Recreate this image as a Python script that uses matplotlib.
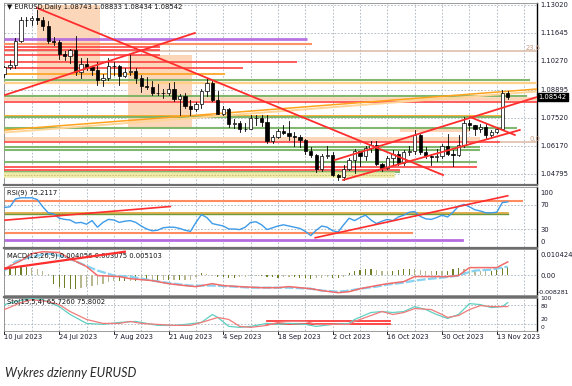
import matplotlib
matplotlib.use('Agg')
import matplotlib.pyplot as plt
from matplotlib.patches import Rectangle
from matplotlib.lines import Line2D

W, H = 572, 386

# EURUSD daily bars, 10 Jul 2023 - 15 Nov 2023 (bar index = trading day)
opens = [1.0968, 1.0998, 1.1010, 1.1129, 1.1227, 1.1229, 1.1237, 1.1228, 1.1200, 1.1129,
         1.1124, 1.1063, 1.1055, 1.1085, 1.0975, 1.1017, 1.0998, 1.0985, 1.0935, 1.0945,
         1.1007, 1.1003, 1.0956, 1.0974, 1.0980, 1.0947, 1.0906, 1.0905, 1.0873, 1.0874,
         1.0872, 1.0895, 1.0844, 1.0861, 1.0812, 1.0795, 1.0818, 1.0882, 1.0924, 1.0842,
         1.0773, 1.0795, 1.0723, 1.0726, 1.0699, 1.0700, 1.0750, 1.0753, 1.0732, 1.0642,
         1.0659, 1.0690, 1.0679, 1.0662, 1.0658, 1.0645, 1.0592, 1.0570, 1.0502, 1.0566,
         1.0573, 1.0477, 1.0465, 1.0504, 1.0549, 1.0589, 1.0565, 1.0605, 1.0620, 1.0529,
         1.0510, 1.0559, 1.0577, 1.0535, 1.0585, 1.0593, 1.0668, 1.0587, 1.0565, 1.0563,
         1.0565, 1.0617, 1.0576, 1.0570, 1.0619, 1.0730, 1.0720, 1.0699, 1.0710, 1.0667,
         1.0683, 1.0698, 1.08743]
highs = [1.1004, 1.1033, 1.1140, 1.1245, 1.1245, 1.1248, 1.1276, 1.1242, 1.1222, 1.1146,
         1.1130, 1.1080, 1.1090, 1.1149, 1.1045, 1.1045, 1.1000, 1.1026, 1.0967, 1.1042,
         1.1025, 1.1010, 1.0996, 1.1065, 1.0993, 1.0963, 1.0953, 1.0930, 1.0918, 1.0893,
         1.0924, 1.0926, 1.0867, 1.0875, 1.0839, 1.0829, 1.0891, 1.0945, 1.0930, 1.0882,
         1.0809, 1.0801, 1.0749, 1.0735, 1.0730, 1.0768, 1.0767, 1.0766, 1.0768, 1.0669,
         1.0698, 1.0718, 1.0737, 1.0682, 1.0670, 1.0650, 1.0609, 1.0577, 1.0578, 1.0617,
         1.0586, 1.0480, 1.0525, 1.0558, 1.0600, 1.0590, 1.0615, 1.0640, 1.0639, 1.0535,
         1.0565, 1.0595, 1.0593, 1.0598, 1.0618, 1.0695, 1.0675, 1.0610, 1.0575, 1.0600,
         1.0624, 1.0675, 1.0595, 1.0668, 1.0756, 1.0740, 1.0720, 1.0724, 1.0724, 1.0695,
         1.0708, 1.0887, 1.08833]
lows = [1.0950, 1.0990, 1.0995, 1.1120, 1.1202, 1.1205, 1.1210, 1.1182, 1.1116, 1.1105,
        1.1041, 1.1035, 1.1020, 1.0961, 1.0945, 1.0985, 1.0961, 1.0912, 1.0910, 1.0937,
        1.0960, 1.0912, 1.0953, 1.0963, 1.0924, 1.0877, 1.0894, 1.0865, 1.0862, 1.0851,
        1.0865, 1.0834, 1.0766, 1.0802, 1.0765, 1.0785, 1.0802, 1.0860, 1.0833, 1.0770,
        1.0767, 1.0706, 1.0703, 1.0686, 1.0687, 1.0697, 1.0720, 1.0715, 1.0631, 1.0632,
        1.0655, 1.0673, 1.0646, 1.0617, 1.0613, 1.0575, 1.0563, 1.0488, 1.0495, 1.0556,
        1.0468, 1.0448, 1.0450, 1.0500, 1.0482, 1.0517, 1.0550, 1.0588, 1.0525, 1.0496,
        1.0505, 1.0525, 1.0524, 1.0523, 1.0573, 1.0578, 1.0575, 1.0555, 1.0522, 1.0544,
        1.0555, 1.0573, 1.0516, 1.0568, 1.0610, 1.0695, 1.0667, 1.0682, 1.0655, 1.0657,
        1.0679, 1.0694, 1.08434]
closes = [1.0998, 1.1010, 1.1129, 1.1227, 1.1229, 1.1237, 1.1228, 1.1200, 1.1129, 1.1124,
          1.1063, 1.1055, 1.1085, 1.0975, 1.1017, 1.0998, 1.0985, 1.0935, 1.0945, 1.1007,
          1.1003, 1.0956, 1.0974, 1.0980, 1.0947, 1.0906, 1.0905, 1.0873, 1.0874, 1.0872,
          1.0895, 1.0844, 1.0861, 1.0812, 1.0795, 1.0818, 1.0882, 1.0924, 1.0842, 1.0773,
          1.0795, 1.0723, 1.0726, 1.0699, 1.0700, 1.0750, 1.0753, 1.0732, 1.0642, 1.0659,
          1.0690, 1.0679, 1.0662, 1.0658, 1.0645, 1.0592, 1.0570, 1.0502, 1.0566, 1.0573,
          1.0477, 1.0465, 1.0504, 1.0549, 1.0589, 1.0565, 1.0605, 1.0620, 1.0529, 1.0510,
          1.0559, 1.0577, 1.0535, 1.0585, 1.0593, 1.0668, 1.0587, 1.0565, 1.0563, 1.0565,
          1.0617, 1.0576, 1.0570, 1.0619, 1.0730, 1.0720, 1.0699, 1.0710, 1.0667, 1.0683,
          1.0698, 1.0874, 1.08542]

date_bars = [0, 10, 20, 30, 40, 50, 60, 70, 80, 90]
date_labels = ['10 Jul 2023', '24 Jul 2023', '7 Aug 2023', '21 Aug 2023', '4 Sep 2023',
               '18 Sep 2023', '2 Oct 2023', '16 Oct 2023', '30 Oct 2023', '13 Nov 2023']
price_ticks = [1.13020, 1.11645, 1.10270, 1.08895, 1.07520, 1.06170, 1.04795]
last_price = 1.08542

# horizontal levels drawn on the price chart
lv_price = [1.11365, 1.11122, 1.10781, 1.10976, 1.10830, 1.10587, 1.10246, 1.09954, 1.09662, 1.09370,
            1.09224, 1.08591, 1.08469, 1.08299, 1.07618, 1.07545, 1.07034, 1.06352, 1.06352, 1.06109,
            1.05987, 1.05379, 1.05136, 1.04990, 1.04893, 1.04746]
lv_start = [-0.1] * 18 + [90.6] + [-0.1] * 7
lv_end = [55.3, 56.2, 97.4, 28.4, 28.4, 28.4, 53.5, 43.6, 40.3, 96.1,
          97.4, 95.5, 97.4, 97.4, 91.5, 91.5, 93.7, 90.6, 97.4, 86.9,
          86.9, 86.4, 86.4, 72.3, 72.3, 71.4]
lv_kind = ['purple', 'coral', 'tan', 'red', 'red', 'red', 'red', 'red', 'orange', 'green',
           'lorange', 'green', 'peach', 'red', 'orange', 'green', 'green', 'red', 'tan', 'green',
           'green', 'green', 'red', 'red', 'green', 'yellow']
# shaded zones: bar from, bar to, price low, price high
zones = [(5.9, 17.5, 1.09224, 1.1302), (22.6, 34.3, 1.07034, 1.10587),
         (-0.1, 86.9, 1.06401, 1.06596), (72.3, 85.1, 1.06839, 1.07082)]
# trend lines: bar0, price0, bar1, price1
trends = [(5.94, 1.12874, 80.16, 1.04746), (0.09, 1.08640, 34.8, 1.11657),
          (60.4, 1.05476, 97.35, 1.08542), (61.9, 1.04503, 94.2, 1.06936),
          (85.1, 1.07569, 93.3, 1.06693)]
orange_trend = (0.09, 1.06936, 97.35, 1.08932)

rsi = [66, 67, 80, 82, 82, 82, 79, 67, 57, 55,
       48, 46, 45, 40, 41, 38, 44, 33, 41, 46,
       45, 41, 43, 44, 41, 35, 30, 27, 28, 32,
       33, 33, 31, 28, 26, 41, 54, 49, 39, 37,
       35, 30, 30, 29, 33, 41, 42, 37, 29, 32,
       35, 37, 35, 33, 31, 26, 19, 28, 35, 33,
       27, 25, 37, 48, 44, 49, 53, 45, 39, 43,
       46, 44, 50, 53, 58, 59, 51, 47, 46, 49,
       53, 50, 58, 68, 71, 67, 62, 60, 57, 57,
       58, 74, 75.21]
rsi_levels = [(77.2, 94.6, 'coral'), (56.1, 92.0, 'olive'), (23.6, 74.5, 'coral'), (12.2, 83.6, 'purple')]
rsi_trends = [(0.1, 44.7, 30.3, 67.5), (56.8, 15.4, 92.0, 85.4)]

macd_hist = [0.0025, 0.0030, 0.0035, 0.0040, 0.0040, 0.0035, 0.0030, 0.0020, 0.0005, -0.0040,
             -0.0055, -0.0060, -0.0065, -0.0065, -0.0060, -0.0055, -0.0050, -0.0045, -0.0040, -0.0035,
             -0.0030, -0.0030, -0.0030, -0.0028, -0.0028, -0.0027, -0.0027, -0.0026, -0.0026, -0.0025,
             -0.0025, -0.0024, -0.0024, -0.0023, -0.0022, -0.0010, 0.0010, 0.0005, -0.0003, -0.0008,
             -0.0010, -0.0012, -0.0012, -0.0010, -0.0008, -0.0005, -0.0003, -0.0005, -0.0008, -0.0010,
             -0.0012, -0.0010, -0.0008, -0.0010, -0.0012, -0.0015, -0.0018, -0.0015, -0.0012, -0.0010,
             -0.0012, -0.0015, -0.0010, 0.0010, 0.0020, 0.0025, 0.0030, 0.0030, 0.0025, 0.0022,
             0.0020, 0.0022, 0.0025, 0.0028, 0.0030, 0.0028, 0.0025, 0.0022, 0.0020, 0.0020,
             0.0018, 0.0020, 0.0028, 0.0032, 0.0030, 0.0028, 0.0025, 0.0022, 0.0020, 0.0022,
             0.0030, 0.0035, 0.0041]
macd_red_bars = [0, 3, 5, 7, 10, 12, 15, 17, 21, 23, 27, 30, 33, 35, 38, 40, 43, 47, 50, 52,
                 56, 58, 61, 63, 65, 68, 70, 73, 75, 78, 81, 83, 84, 85, 88, 90, 91, 92]
macd_red = [0.0031, 0.0069, 0.0103, 0.0112, 0.0108, 0.0079, 0.0041, -0.0002, -0.0007, -0.0017,
            -0.0026, -0.0041, -0.0050, -0.0055, -0.0041, -0.0050, -0.0055, -0.0060, -0.0060, -0.0055,
            -0.0065, -0.0074, -0.0084, -0.0079, -0.0065, -0.0050, -0.0041, -0.0031, -0.0007, -0.0007,
            -0.0007, -0.0002, 0.0017, 0.0036, 0.0036, 0.0036, 0.0050, 0.0063]
macd_blue_bars = [0, 2, 5, 8, 11, 14, 17, 20, 23, 27, 31, 34, 38, 42, 45, 49, 52, 56, 58, 61,
                  63, 65, 68, 70, 73, 75, 78, 80, 83, 84, 86, 89, 91, 92]
macd_blue = [0.0022, 0.0065, 0.0088, 0.0103, 0.0088, 0.0055, 0.0022, -0.0002, -0.0007, -0.0026,
             -0.0041, -0.0050, -0.0050, -0.0055, -0.0060, -0.0060, -0.0060, -0.0065, -0.0074, -0.0079,
             -0.0074, -0.0065, -0.0055, -0.0045, -0.0036, -0.0026, -0.0017, -0.0012, -0.0002, 0.0007,
             0.0022, 0.0026, 0.0036, 0.0041]
macd_trend = (0, 0.0031, 22, 0.0112)

sto_main_bars = [0, 2, 5, 7, 10, 12, 15, 18, 21, 24, 26, 28, 31, 33, 36, 38, 39, 41, 43, 45,
                 48, 50, 52, 55, 57, 60, 63, 64, 67, 69, 71, 73, 75, 77, 79, 81, 83, 85, 87, 89, 91, 92]
sto_main = [80, 89, 99, 95, 74, 50, 23, 20, 26, 29, 23, 17, 17, 20, 26, 50, 41, 14, 11, 14,
            23, 20, 23, 20, 14, 20, 23, 35, 56, 59, 56, 59, 74, 65, 50, 38, 50, 83, 80, 71, 74, 86]
sto_sig_bars = [0, 3, 5, 8, 10, 12, 15, 18, 21, 23, 25, 28, 31, 34, 36, 39, 41, 43, 45, 48,
                50, 52, 55, 57, 60, 63, 64, 67, 69, 71, 73, 75, 78, 80, 81, 83, 85, 87, 89, 92]
sto_sig = [65, 86, 95, 89, 80, 59, 35, 23, 23, 29, 23, 20, 17, 17, 26, 41, 35, 14, 11, 17,
           26, 29, 29, 20, 20, 20, 29, 47, 59, 50, 56, 68, 65, 50, 41, 47, 65, 77, 74, 74]
sto_levels = [(29, 48, 70.5), (20, 48, 70.5)]

STY = {
    'purple': dict(color='#b56be0', lw=2.0),
    'coral': dict(color='#ff8c5e', lw=1.5),
    'tan': dict(color='#d8b6a0', lw=1.1),
    'red': dict(color='#ff4646', lw=1.3),
    'orange': dict(color='#ffa41f', lw=1.3),
    'green': dict(color='#7ab466', lw=1.5),
    'lorange': dict(color='#ffcf85', lw=1.6),
    'peach': dict(color='#fbd2b3', lw=2.6),
    'yellow': dict(color='#efeaa6', lw=4.0),
    'olive': dict(color='#9a8a2c', lw=1.6),
}
GRID = '#a9b3bd'
FS = 4.9
XMIN, XMAX = -0.09, 97.35

fig = plt.figure(figsize=(W / 100, H / 100), dpi=100)
fig.patch.set_facecolor('white')


def panel(top, bottom):
    ax = fig.add_axes([4 / W, 1 - bottom / H, 533 / W, (bottom - top) / H])
    ax.set_xlim(XMIN, XMAX)
    ax.set_xticks([])
    ax.set_yticks([])
    for s in ax.spines.values():
        s.set_color('#8a8a8a')
        s.set_linewidth(0.6)
    ax.spines['right'].set_color('black')
    ax.spines['right'].set_linewidth(1.0)
    for b in range(0, 97, 5):
        ax.axvline(b, color=GRID, lw=0.6, ls=(0, (2, 2)), zorder=0)
    return ax


def right_label(ax, y, txt, fs=FS, dx=1.006):
    ax.text(dx, y, txt, transform=ax.transAxes, fontsize=fs, va='center', ha='left',
            color='#1a1a2e', clip_on=False)


# ---- main price panel
ax = panel(3, 184)
ax.set_ylim(1.04308, 1.13117)
for p in price_ticks:
    ax.axhline(p, color=GRID, lw=0.6, ls=(0, (2, 2)), zorder=0)
    ax.text(1.006, p, f'{p:.5f}', transform=ax.get_yaxis_transform(), fontsize=FS,
            va='center', ha='left', color='#1a1a2e', clip_on=False)
ax.text(1.003, last_price, f'{last_price:.5f}', transform=ax.get_yaxis_transform(), fontsize=FS,
        va='center', ha='left', color='white', clip_on=False,
        bbox=dict(boxstyle='square,pad=0.15', fc='black', ec='black'))

for b0, b1, lo, hi in zones:
    ax.add_patch(Rectangle((b0, lo), b1 - b0, hi - lo, fc='#fcd6b8', ec='none', zorder=0.5))

for p, b0, b1, k in zip(lv_price, lv_start, lv_end, lv_kind):
    ax.plot([b0, b1], [p, p], solid_capstyle='butt', zorder=3, alpha=0.95, **STY[k])
    if k == 'yellow':
        ax.plot([b0, b1], [p, p], color='#c9c16a', lw=0.7, ls=(0, (1.5, 1.5)), zorder=3)

ob0, op0, ob1, op1 = orange_trend
ax.plot([ob0, ob1], [op0 - 0.0012, op1 - 0.0012], color='#ffd597', lw=1.4, zorder=3)
ax.plot([ob0, ob1], [op0, op1], color='#ffa21c', lw=1.1, zorder=3)

for i, (o, h, l, c) in enumerate(zip(opens, highs, lows, closes)):
    ax.plot([i, i], [l, h], color='black', lw=0.6, zorder=4)
    ax.add_patch(Rectangle((i - 0.3, min(o, c)), 0.6, max(abs(c - o), 0.00006),
                           fc='white' if c >= o else 'black', ec='black', lw=0.5, zorder=4.5))

for b0, p0, b1, p1 in trends:
    ax.plot([b0, b1], [p0, p1], color='#ff2d2d', lw=1.3, zorder=5)

ax.text(95.3, 1.10781, '23.6', fontsize=FS, color='#c89a80', va='bottom', ha='left', zorder=6)
ax.text(96.0, 1.06352, '0.0', fontsize=FS, color='#c89a80', va='bottom', ha='left', zorder=6)
fig.text(7 / W, 1 - 7 / H, '\u25bc EURUSD,Daily 1.08743 1.08833 1.08434 1.08542',
         fontsize=FS, va='center', ha='left', color='#111')

# ---- RSI panel
ar = panel(187, 247)
ar.set_ylim(0, 100)
for lvl in (70, 30):
    ar.axhline(lvl, color=GRID, lw=0.6, ls=(0, (2, 2)), zorder=0)
for v, b1, k in rsi_levels:
    if k == 'olive':
        ar.plot([XMIN, b1], [v + 1.2, v + 1.2], color='#e0a030', lw=1.2, zorder=2)
        ar.plot([XMIN, b1], [v - 0.6, v - 0.6], color='#6c9a3c', lw=1.0, zorder=2)
    else:
        ar.plot([XMIN, b1], [v, v], zorder=2, **STY[k])
for b0, v0, b1, v1 in rsi_trends:
    ar.plot([b0, b1], [v0, v1], color='#ff2d2d', lw=1.2, zorder=4)
ar.plot(range(len(rsi)), rsi, color='#3d9be9', lw=1.0, zorder=3)
ar.text(0.006, 0.9, 'RSI(9) 75.2117', transform=ar.transAxes, fontsize=FS, va='center', color='#111')
for y, t in ((0.9, '100'), (0.7, '70'), (0.28, '30'), (0.08, '0')):
    right_label(ar, y, t)

# ---- MACD panel
am = panel(249, 295)
am.set_ylim(-0.0095, 0.0125)
am.axhline(0, color=GRID, lw=0.6, ls=(0, (2, 2)), zorder=0)
hcol = ['#6f7f26' if abs(h) >= abs(macd_hist[i - 1]) or i == 0 else '#b8b890'
        for i, h in enumerate(macd_hist)]
am.bar(range(len(macd_hist)), macd_hist, width=0.22, color=hcol, zorder=2)
am.plot(macd_blue_bars, macd_blue, color='#86d3f2', lw=1.6, ls=(0, (4, 1)), zorder=3)
am.plot(macd_red_bars, macd_red, color='#f26b6b', lw=1.1, zorder=3)
tb0, tv0, tb1, tv1 = macd_trend
am.plot([tb0, tb1], [tv0, tv1], color='#ff2d2d', lw=1.6, zorder=4)
am.text(0.006, 0.86, 'MACD(12,26,9) 0.004056 0.003075 0.005103', transform=am.transAxes,
        fontsize=FS, va='center', color='#111')
right_label(am, 0.87, '0.010424')
right_label(am, 0.42, '0.00')
right_label(am, 0.06, '-0.008281', fs=4.5, dx=1.002)

# ---- Stochastic panel
ast = panel(298, 331)
ast.set_ylim(0, 100)
for lvl in (80, 20):
    ast.axhline(lvl, color=GRID, lw=0.6, ls=(0, (2, 2)), zorder=0)
for v, b0, b1 in sto_levels:
    ast.plot([b0, b1], [v, v], color='#ff3a3a', lw=1.3, zorder=2)
ast.plot(sto_main_bars, sto_main, color='#5fd0c2', lw=0.9, zorder=3)
ast.plot(sto_sig_bars, sto_sig, color='#f07a7a', lw=0.9, zorder=3)
ast.text(0.006, 0.88, 'Sto(15,5,4) 65.7260 75.8002', transform=ast.transAxes,
         fontsize=FS, va='center', color='#111')
right_label(ast, 0.97, '100', fs=4.3)
right_label(ast, 0.74, '80', fs=4.3)
right_label(ast, 0.36, '20', fs=4.3)
right_label(ast, 0.12, '0', fs=4.3)

for b, t in zip(date_bars, date_labels):
    ast.text(b, -0.18, t, transform=ast.get_xaxis_transform(), fontsize=FS,
             ha='left', va='center', color='#1a1a2e', clip_on=False)
    ast.plot([b, b], [0, -0.08], transform=ast.get_xaxis_transform(), color='black',
             lw=0.6, clip_on=False)

# panel separators
for y in (185.5, 248.0, 296.5):
    fig.add_artist(Line2D([4 / W, 537 / W], [1 - y / H, 1 - y / H], color='#6e6e6e', lw=1.6))

fig.text(5 / W, 1 - 373 / H, 'Wykres dzienny EURUSD', fontsize=9.0, style='italic',
         family='Lato', color='#2a2a2a', va='center', ha='left')

fig.savefig('out.png', dpi=100)
